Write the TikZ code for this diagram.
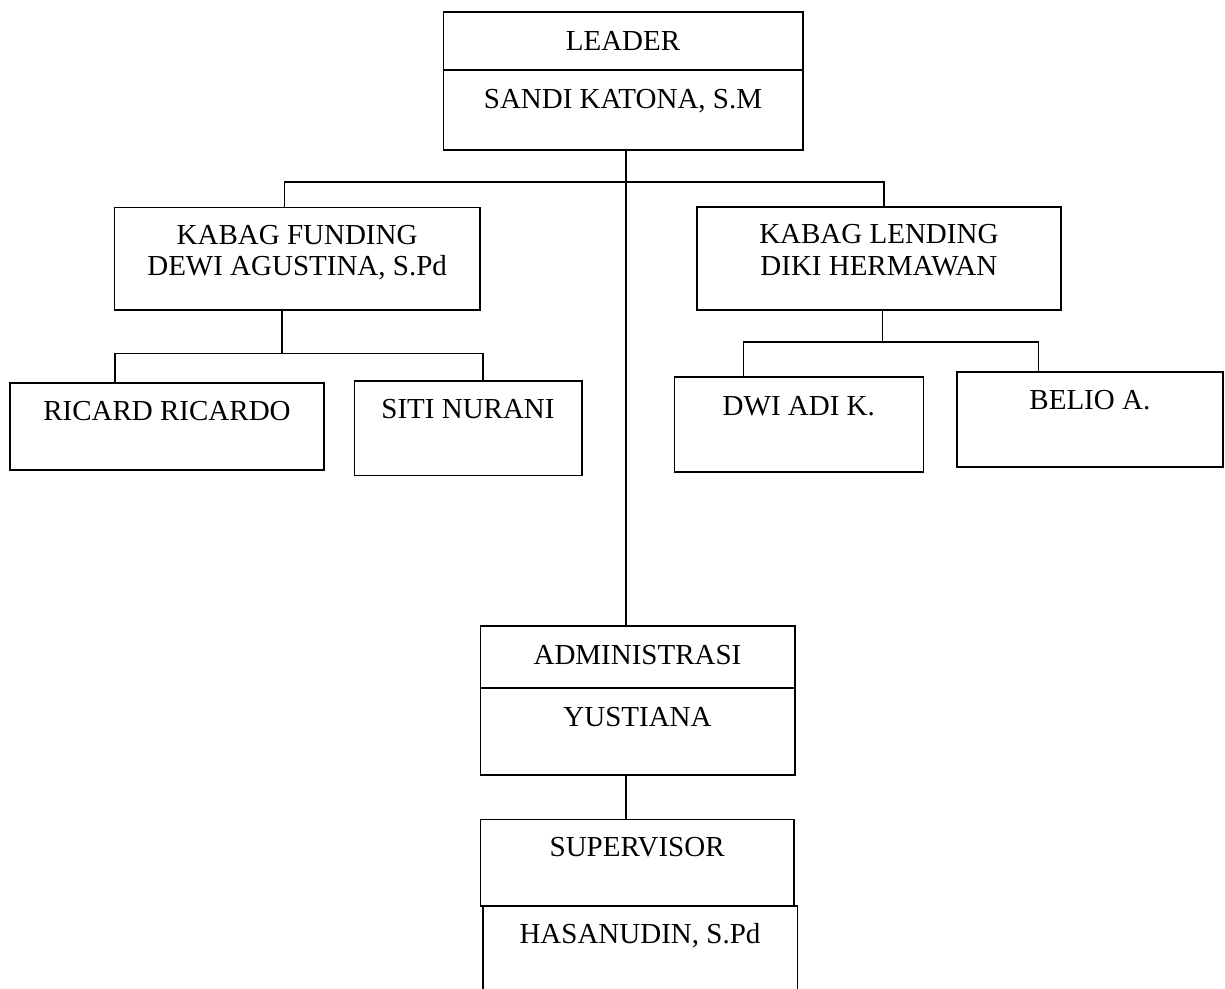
\documentclass[tikz,border=0pt]{standalone}
\usepackage{fontspec}
\setmainfont{Liberation Serif}

\begin{document}
\begin{tikzpicture}[x=1pt,y=-1pt,
    box/.style={draw, line width=1.6pt, inner sep=0pt, outer sep=0pt, anchor=north west, align=center, font=\fontsize{29}{31.3}\selectfont},
    link/.style={line width=1.6pt}]
    \useasboundingbox (0,0) rectangle (1225,988);
    \clip (0,0) rectangle (1225,988);
    % leader
    \node[box, minimum width=359.4pt, text height=38.3pt, text depth=20pt] (leader) at (443.3,11.7) {LEADER};
    \node[box, minimum width=359.4pt, text height=38.3pt, text depth=41.7pt] (sandi) at (443.3,70) {SANDI KATONA, S.M};
    % kabag
    \node[box, minimum width=365.7pt, text height=68pt, text depth=34.7pt] (funding) at (114.3,207.3) {KABAG FUNDING\\DEWI AGUSTINA, S.Pd};
    \node[box, minimum width=364.3pt, text height=68.3pt, text depth=35pt] (lending) at (696.7,206.7) {KABAG LENDING\\DIKI HERMAWAN};
    % staff
    \node[box, minimum width=314pt, text height=38pt, text depth=49.3pt] (ricard) at (10,382.7) {RICARD RICARDO};
    \node[box, minimum width=227.4pt, text height=37.6pt, text depth=57pt] (siti) at (354.3,380.7) {SITI NURANI};
    \node[box, minimum width=249pt, text height=38.3pt, text depth=57pt] (dwi) at (674.3,376.7) {DWI ADI K.};
    \node[box, minimum width=266.3pt, text height=37.6pt, text depth=57.4pt] (belio) at (956.7,371.7) {BELIO A.};
    % administrasi
    \node[box, minimum width=314.4pt, text height=38pt, text depth=24pt] (admin) at (480.3,626) {ADMINISTRASI};
    \node[box, minimum width=314.4pt, text height=38pt, text depth=49pt] (yustiana) at (480.3,688) {YUSTIANA};
    % supervisor
    \node[box, minimum width=313.7pt, text height=37.4pt, text depth=49.3pt] (supervisor) at (480.3,819.3) {SUPERVISOR};
    \node[box, minimum width=314.6pt, text height=37.3pt, text depth=94pt] (hasanudin) at (482.7,906) {HASANUDIN, S.Pd};
    % bus points
    \coordinate (trunk) at (626,181.7);
    \coordinate (fundtop) at (284.3,181.7);
    \coordinate (lendtop) at (884,181.7);
    \coordinate (fundbus) at (282.2,353.3);
    \coordinate (ricbus) at (115,353.3);
    \coordinate (sitibus) at (482.7,353.3);
    \coordinate (lendbus) at (882.3,342);
    \coordinate (dwibus) at (743.3,342);
    \coordinate (beliobus) at (1038.3,342);
    % connectors
    \draw[link] (sandi.south -| trunk) -- (admin.north -| trunk);
    \draw[link] (funding.north -| fundtop) -- (fundtop) -- (lendtop) -- (lending.north -| lendtop);
    \draw[link] (funding.south -| fundbus) -- (fundbus);
    \draw[link] (ricard.north -| ricbus) -- (ricbus) -- (sitibus) -- (siti.north -| sitibus);
    \draw[link] (lending.south -| lendbus) -- (lendbus);
    \draw[link] (dwi.north -| dwibus) -- (dwibus) -- (beliobus) -- (belio.north -| beliobus);
    \draw[link] (yustiana.south -| trunk) -- (supervisor.north -| trunk);
\end{tikzpicture}
\end{document}
